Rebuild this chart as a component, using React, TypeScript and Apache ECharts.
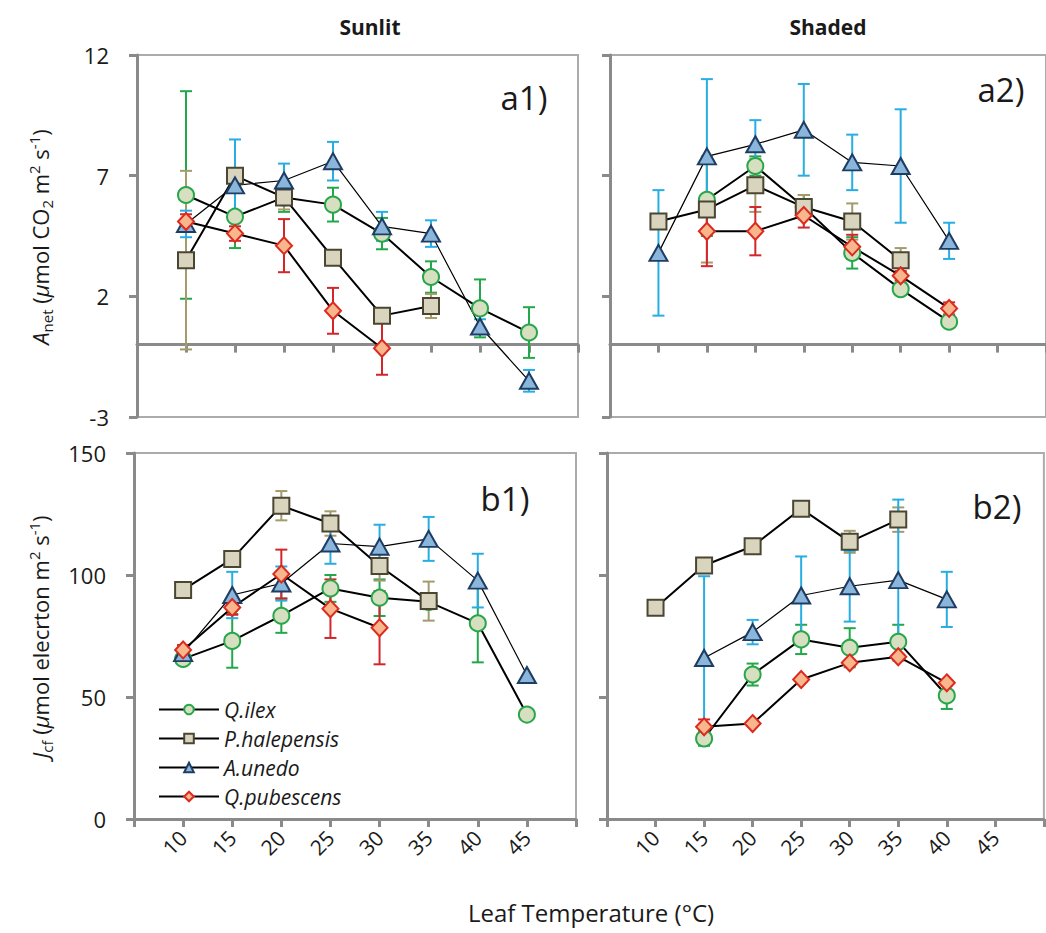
import React, { useEffect, useRef } from "react";
import * as echarts from "echarts";

// Leaf temperature classes (°C)
const temps = [10, 15, 20, 25, 30, 35, 40, 45];
const speciesNames = ["Q.ilex", "P.halepensis", "A.unedo", "Q.pubescens"];

// Net assimilation, sunlit leaves (mean and error)
const anetSunIlex = [6.2, 5.3, 6.1, 5.8, 4.6, 2.8, 1.5, 0.5];
const anetSunIlexErr = [4.3, 1.3, 0.6, 0.7, 0.65, 0.65, 1.2, 1.05];
const anetSunHal = [3.5, 7.0, 6.1, 3.6, 1.2, 1.6, null, null];
const anetSunHalErr = [3.7, 0.3, 0.5, 0.3, 0.3, 0.5, null, null];
const anetSunUne = [5.0, 6.6, 6.8, 7.6, 4.9, 4.6, 0.75, -1.5];
const anetSunUneErr = [0.55, 1.9, 0.7, 0.8, 0.6, 0.55, 0.3, 0.45];
const anetSunPub = [5.1, 4.6, 4.1, 1.4, -0.15, null, null, null];
const anetSunPubErr = [0.3, 0.3, 1.1, 0.95, 1.1, null, null, null];

// Net assimilation, shaded leaves
const anetShdIlex = [null, 6.0, 7.4, 5.7, 3.8, 2.3, 0.95, null];
const anetShdIlexErr = [null, 1.5, 0.4, 0.5, 0.65, 0.25, 0.2, null];
const anetShdHal = [5.1, 5.6, 6.6, 5.7, 5.1, 3.5, null, null];
const anetShdHalErr = [0.3, 2.2, 1.1, 0.5, 0.75, 0.5, null, null];
const anetShdUne = [3.8, 7.8, 8.3, 8.9, 7.55, 7.4, 4.3, null];
const anetShdUneErr = [2.6, 3.2, 1.0, 1.9, 1.15, 2.35, 0.75, null];
const anetShdPub = [null, 4.7, 4.7, 5.35, 4.05, 2.85, 1.5, null];
const anetShdPubErr = [null, 1.45, 1.0, 0.5, 0.5, 0.2, 0.25, null];

// Electron transport rate, sunlit leaves
const jcfSunIlex = [65.6, 73, 83.3, 94.5, 90.7, 89, 80.2, 42.8];
const jcfSunIlexErr = [2, 11, 7, 5.5, 7.5, 3, 16, null];
const jcfSunHal = [93.9, 106.6, 128.4, 121.1, 103.7, 89.3, null, null];
const jcfSunHalErr = [null, null, 6, 5, 6, 8, null, null];
const jcfSunUne = [68, 91.8, 96.5, 112.9, 111.6, 114.8, 97.7, 59];
const jcfSunUneErr = [3, 9.5, 7, 8.3, 9, 9, 11, null];
const jcfSunPub = [69.3, 86.7, 100.4, 86.2, 78.4, null, null, null];
const jcfSunPubErr = [2, 3, 10, 12, 15, null, null, null];

// Electron transport rate, shaded leaves
const jcfShdIlex = [null, 33, 59.2, 73.6, 70.2, 72.6, 50.6, null];
const jcfShdIlexErr = [null, 3, 4.5, 6, 8, 7, 5.5, null];
const jcfShdHal = [86.6, 103.9, 111.8, 127.2, 113.6, 122.7, null, null];
const jcfShdHalErr = [null, null, null, null, 4.5, 5, null, null];
const jcfShdUne = [null, 66, 76.6, 91.6, 95.4, 97.9, 90, null];
const jcfShdUneErr = [null, 33.5, 5, 16, 14.5, 33, 11.3, null];
const jcfShdPub = [null, 37.8, 39.1, 57.2, 64, 66.5, 55.8, null];
const jcfShdPubErr = [null, 3, 1, 1, 1, 1, 1, null];

const anetTicks = [-3, 2, 7, 12];
const jcfTicks = [0, 50, 100, 150];

const FONT = "'Open Sans', sans-serif";
const AXIS_GREY = "#8a8a8a";
const FRAME_GREY = "#ababab";
const INK = "#1a1a1a";

const speciesStyle: Record<string, any> = {
  "Q.ilex": { symbol: "circle", size: 16, fill: "#d6dfc0", stroke: "#27a64a", err: "#22a84a", line: 2 },
  "P.halepensis": { symbol: "rect", size: 16, fill: "#d9d4be", stroke: "#4a4632", err: "#a39b6c", line: 2 },
  "A.unedo": { symbol: "triangle", size: [18, 16], fill: "#8ab6dc", stroke: "#1f3d63", err: "#28ade3", line: 1.2 },
  "Q.pubescens": { symbol: "diamond", size: [16, 17], fill: "#f8b68c", stroke: "#dc2a1f", err: "#d2262a", line: 2 },
};

type Panel = {
  grid: { left: number; top: number; width: number; height: number };
  yMin: number;
  yMax: number;
  ticks: number[];
  showY: boolean;
  showX: boolean;
  series: [(number | null)[], (number | null)[]][];
};

const anetName =
  "{ai|A}{sub|net}{n| (}{mu|μ}{n|mol CO}{sub|2}{n| m}{sup|2}{n| s}{sup|-1}{n|)}";
const jcfName = "{ai|J}{sub|cf}{n| (}{mu|μ}{n|mol elecrton m}{sup|2}{n| s}{sup|-1}{n|)}";

const NAME_SIZE = 22;
const nameRich = {
  n: { fontSize: NAME_SIZE, lineHeight: 28, fontFamily: FONT, fill: INK },
  ai: { fontSize: NAME_SIZE, lineHeight: 28, fontStyle: "italic", fontFamily: FONT, fill: INK },
  mu: { fontSize: NAME_SIZE, lineHeight: 28, fontStyle: "italic", fontFamily: FONT, fill: INK },
  sub: { fontSize: 15, lineHeight: 15, verticalAlign: "bottom", fontFamily: FONT, fill: INK },
  sup: { fontSize: 15, lineHeight: 15, verticalAlign: "top", fontFamily: FONT, fill: INK },
};

const panels: Panel[] = [
  {
    grid: { left: 137, top: 55, width: 441, height: 362 },
    yMin: -3, yMax: 12, ticks: anetTicks, showY: true, showX: false,
    series: [
      [anetSunIlex, anetSunIlexErr], [anetSunHal, anetSunHalErr],
      [anetSunUne, anetSunUneErr], [anetSunPub, anetSunPubErr],
    ],
  },
  {
    grid: { left: 610, top: 55, width: 444, height: 362 },
    yMin: -3, yMax: 12, ticks: anetTicks, showY: false, showX: false,
    series: [
      [anetShdIlex, anetShdIlexErr], [anetShdHal, anetShdHalErr],
      [anetShdUne, anetShdUneErr], [anetShdPub, anetShdPubErr],
    ],
  },
  {
    grid: { left: 134, top: 453, width: 442, height: 366 },
    yMin: 0, yMax: 150, ticks: jcfTicks, showY: true, showX: true,
    series: [
      [jcfSunIlex, jcfSunIlexErr], [jcfSunHal, jcfSunHalErr],
      [jcfSunUne, jcfSunUneErr], [jcfSunPub, jcfSunPubErr],
    ],
  },
  {
    grid: { left: 607, top: 453, width: 444, height: 366 },
    yMin: 0, yMax: 150, ticks: jcfTicks, showY: false, showX: true,
    series: [
      [jcfShdIlex, jcfShdIlexErr], [jcfShdHal, jcfShdHalErr],
      [jcfShdUne, jcfShdUneErr], [jcfShdPub, jcfShdPubErr],
    ],
  },
];

function errorBarRenderer(color: string) {
  return (params: any, api: any) => {
    const x = api.value(0);
    const m = api.value(1);
    const e = api.value(2);
    const top = api.coord([x, m + e]);
    const bot = api.coord([x, m - e]);
    const hw = 6;
    const style = { stroke: color, lineWidth: 2 };
    return {
      type: "group",
      children: [
        { type: "line", shape: { x1: top[0], y1: top[1], x2: bot[0], y2: bot[1] }, style },
        { type: "line", shape: { x1: top[0] - hw, y1: top[1], x2: top[0] + hw, y2: top[1] }, style },
        { type: "line", shape: { x1: bot[0] - hw, y1: bot[1], x2: bot[0] + hw, y2: bot[1] }, style },
      ],
    };
  };
}

function buildOption() {
  const grids: any[] = [];
  const xAxes: any[] = [];
  const yAxes: any[] = [];
  const series: any[] = [];

  panels.forEach((p, i) => {
    grids.push({ ...p.grid, show: true, borderColor: FRAME_GREY, borderWidth: 2, containLabel: false });
    xAxes.push({
      type: "value",
      gridIndex: i,
      min: 5,
      max: 50,
      interval: 5,
      axisLine: { show: true, onZero: true, lineStyle: { color: AXIS_GREY, width: 3 } },
      axisTick: { show: true, length: 8, lineStyle: { color: AXIS_GREY, width: 3 } },
      axisLabel: {
        show: p.showX,
        rotate: 45,
        margin: 15,
        fontSize: 21,
        fontFamily: FONT,
        color: INK,
        formatter: (v: number) => (v >= 10 && v <= 45 ? String(v) : ""),
      },
      splitLine: { show: false },
    });
    yAxes.push({
      type: "value",
      gridIndex: i,
      min: p.yMin,
      max: p.yMax,
      axisLine: { show: true, lineStyle: { color: AXIS_GREY, width: 3 } },
      axisTick: { show: true, length: 8, customValues: p.ticks, lineStyle: { color: AXIS_GREY, width: 3 } },
      axisLabel: {
        show: p.showY,
        customValues: p.ticks,
        margin: 28,
        fontSize: 22,
        fontFamily: FONT,
        color: INK,
      },
      splitLine: { show: false },
    });

    p.series.forEach(([vals, errs], k) => {
      const sName = speciesNames[k];
      const st = speciesStyle[sName];
      const errData: number[][] = [];
      temps.forEach((t, j) => {
        const v = vals[j];
        const e = errs[j];
        if (v != null && e != null) errData.push([t, v, e]);
      });
      series.push({
        name: `${sName} (SE ${i})`,
        type: "custom",
        xAxisIndex: i,
        yAxisIndex: i,
        renderItem: errorBarRenderer(st.err),
        encode: { x: 0, y: 1 },
        data: errData,
        z: 2,
        silent: true,
      });
    });
    p.series.forEach(([vals], k) => {
      const sName = speciesNames[k];
      const st = speciesStyle[sName];
      const pts: number[][] = [];
      temps.forEach((t, j) => {
        const v = vals[j];
        if (v != null) pts.push([t, v]);
      });
      series.push({
        name: sName,
        type: "line",
        xAxisIndex: i,
        yAxisIndex: i,
        data: pts,
        symbol: st.symbol,
        symbolSize: st.size,
        showAllSymbol: true,
        itemStyle: { color: st.fill, borderColor: st.stroke, borderWidth: 2, opacity: 1 },
        lineStyle: { color: "#000", width: st.line },
        z: 3,
      });
    });
  });

  const txt = (text: string, x: number, y: number, size: number, weight = "normal") => ({
    type: "text",
    x,
    y,
    style: {
      text,
      fill: INK,
      font: `${weight} ${size}px ${FONT}`,
      textAlign: "center",
      textVerticalAlign: "middle",
    },
  });

  const axisName = (text: string, x: number, y: number) => ({
    type: "text",
    x,
    y,
    rotation: Math.PI / 2,
    style: {
      text,
      rich: nameRich,
      textAlign: "center",
      textVerticalAlign: "middle",
    },
  });

  return {
    animation: false,
    backgroundColor: "#fff",
    grid: grids,
    xAxis: xAxes,
    yAxis: yAxes,
    series,
    legend: {
      data: speciesNames,
      orient: "vertical",
      left: 153,
      top: 694,
      itemWidth: 60,
      itemHeight: 12,
      itemGap: 8,
      textStyle: { fontSize: 21, fontStyle: "italic", fontFamily: FONT, color: INK },
      selectedMode: false,
    },
    graphic: [
      txt("Sunlit", 370, 27, 21, "bold"),
      txt("Shaded", 828, 27, 21, "bold"),
      txt("a1)", 524, 97, 33),
      txt("a2)", 1001, 89, 33),
      txt("b1)", 505, 498, 33),
      txt("b2)", 997, 506, 33),
      txt("Leaf Temperature (°C)", 591, 912, 24),
      axisName(anetName, 40, 237),
      axisName(jcfName, 40, 637),
    ],
  };
}

export default function App() {
  const ref = useRef<HTMLDivElement>(null);
  useEffect(() => {
    if (!ref.current) return;
    const chart = echarts.init(ref.current, undefined, { renderer: "svg" });
    chart.setOption(buildOption() as any);
    return () => chart.dispose();
  }, []);
  return (
    <div
      ref={ref}
      style={{ position: "fixed", left: 0, top: 0, width: 1046, height: 933, background: "#fff" }}
    />
  );
}
